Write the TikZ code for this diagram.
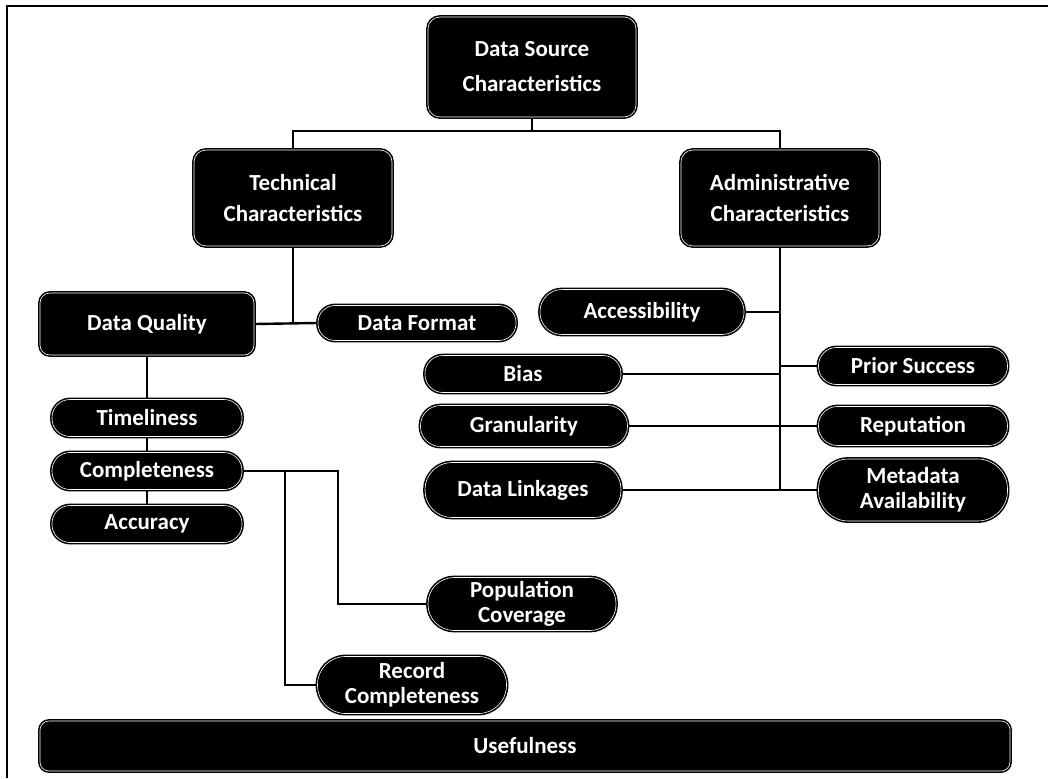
\documentclass[tikz,border=0pt]{standalone}
\usepackage{fontspec}
\setmainfont{Carlito}
\begin{document}
\begin{tikzpicture}[x=1pt,y=-1pt,
  conn/.style={line width=2.4pt,black},
  box/.style={draw=black,line width=1.6pt,fill=black,text=white,font=\fontsize{23}{31}\selectfont\bfseries,
     align=center,inner sep=0pt,double=white,double distance=0.6pt},
  bigbox/.style={box,rounded corners=12pt},
  pill/.style={box},
  twoline/.style={font=\fontsize{23}{25}\selectfont\bfseries}
]
\useasboundingbox (0,0) rectangle (1048,778);
% frame
\draw[line width=2.6pt] (7,778) -- (7,6) -- (1048,6);

\node[bigbox,minimum width=208pt,minimum height=100pt,font=\fontsize{23}{35}\selectfont\bfseries] (top) at (532,67) {Data Source\\Characteristics};
\node[bigbox,minimum width=198pt,minimum height=96pt] (tech) at (293,198) {Technical\\Characteristics};
\node[bigbox,minimum width=198pt,minimum height=96pt] (adm) at (780,198) {Administrative\\Characteristics};
\node[bigbox,rounded corners=10pt,minimum width=214pt,minimum height=62pt] (dq) at (147,324) {Data Quality};

\node[pill,rounded corners=17pt,minimum width=198pt,minimum height=35pt] (df) at (417,323) {Data Format};
\node[pill,rounded corners=22pt,minimum width=204pt,minimum height=45pt] (access) at (642,312) {Accessibility};
\node[pill,rounded corners=18pt,minimum width=196pt,minimum height=37pt] (bias) at (523,374) {Bias};
\node[pill,rounded corners=18pt,minimum width=189pt,minimum height=37pt] (prior) at (913,366) {Prior Success};
\node[pill,rounded corners=20pt,minimum width=207pt,minimum height=41pt] (gran) at (524,426) {Granularity};
\node[pill,rounded corners=19pt,minimum width=189pt,minimum height=39pt] (rep) at (913,426) {Reputation};
\node[pill,rounded corners=27pt,minimum width=196pt,minimum height=55pt] (link) at (523,490) {Data Linkages};
\node[pill,twoline,rounded corners=30pt,minimum width=189pt,minimum height=62pt] (meta) at (913,490) {Metadata\\Availability};

\node[pill,rounded corners=18pt,minimum width=190pt,minimum height=37pt] (tim) at (147,418) {Timeliness};
\node[pill,rounded corners=18pt,minimum width=190pt,minimum height=37pt] (comp) at (147,471) {Completeness};
\node[pill,rounded corners=18pt,minimum width=190pt,minimum height=37pt] (acc) at (147,524) {Accuracy};

\node[pill,twoline,rounded corners=26pt,minimum width=188pt,minimum height=53pt] (pop) at (522,604) {Population\\Coverage};
\node[pill,twoline,rounded corners=28pt,minimum width=189pt,minimum height=57pt] (rec) at (412,685) {Record\\Completeness};

\node[bigbox,rounded corners=9pt,minimum width=970pt,minimum height=50pt] (use) at (525,746) {Usefulness};

% connectors
\coordinate (j1) at (532,131);
\draw[conn] (top) -- (j1);
\draw[conn] (tech.north) |- (j1) -| (adm.north);
\draw[conn] (tech.south) -- (tech.south |- dq.east);
\draw[conn] (dq.east) -- (df.west);
\draw[conn] (dq) -- (tim);
\draw[conn] (tim) -- (comp);
\draw[conn] (comp) -- (acc);
\coordinate (b1) at (285,471);
\coordinate (b2) at (338,471);
\draw[conn] (comp.east) -- (b2) |- (pop.west);
\draw[conn] (b1) |- (rec.west);
\coordinate (aend) at (780,490);
\draw[conn] (adm.south) -- (aend);
\draw[conn] (access.east) -- (access.east -| aend);
\draw[conn] (bias.east) -- (bias.east -| aend);
\draw[conn] (prior.west) -- (prior.west -| aend);
\draw[conn] (gran.east) -- (rep.west);
\draw[conn] (link.east) -- (meta.west);
\end{tikzpicture}
\end{document}
